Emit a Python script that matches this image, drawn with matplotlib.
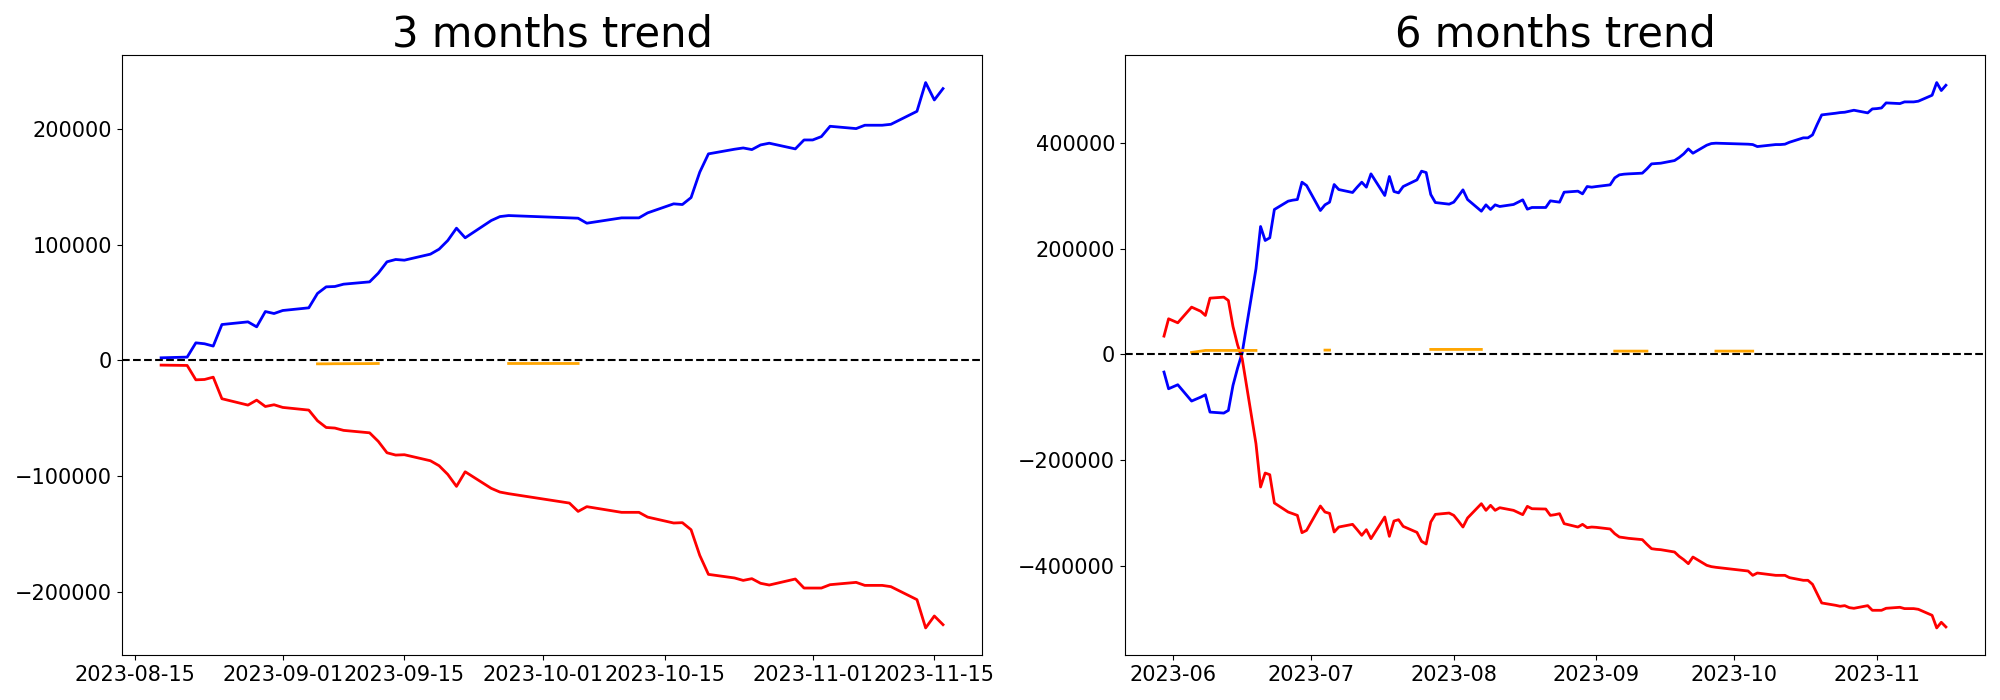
import pandas as pd
import numpy as np
import matplotlib
matplotlib.use("Agg")
import matplotlib.pyplot as plt

# 休場日（土日以外）
holidays = ["2023-06-06", "2023-08-15", "2023-09-28", "2023-09-29",
            "2023-10-02", "2023-10-03", "2023-10-09"]

# ---- 3ヶ月 ----
dates_3m = pd.bdate_range("2023-08-18", "2023-11-16").drop(pd.to_datetime(holidays), errors="ignore")

blue_3m = [2300, 2900, 15200, 14400, 12400, 31000, 33300, 29000, 42200, 40500,
           43100, 45400, 57800, 63500, 63800, 65800, 67800, 75300, 85100, 87100,
           86500, 91700, 96000, 103500, 114100, 105800, 120700, 124100, 125000,
           123000, 122700, 118400, 123000, 123000, 123000, 127300, 135100, 134500, 140500,
           162400, 178200, 182200, 183300, 181900, 185900, 187400, 182500, 190200,
           190200, 193100, 202000, 200000, 202900, 202900, 202900, 203700, 214900,
           239700, 224700, 234500]

red_3m = [-4000, -4300, -16700, -16400, -14400, -33000, -38500, -34200, -39700, -38200,
          -40500, -42800, -52000, -57800, -58300, -60300, -62400, -69800, -79600, -81600,
          -81300, -86500, -90800, -98300, -108600, -96000, -110300, -113500, -114900,
          -123000, -130200, -126100, -131000, -131000, -131000, -135100, -140200, -139900, -146000,
          -168100, -184500, -187600, -189700, -188200, -192200, -193700, -188500, -196300,
          -196300, -196300, -193400, -191400, -194000, -194000, -194000, -195100, -206300,
          -230700, -220400, -227900]

orange_3m_dates = ["2023-09-05", "2023-09-06", "2023-09-07", "2023-09-08", "2023-09-11", "2023-09-12",
                   "2023-09-27", "2023-10-04", "2023-10-05"]
orange_3m_vals = [-2900, -2900, -2800, -2800, -2700, -2600, -2600, -2600, -2600]

# ---- 6ヶ月 ----
dates_6m = pd.bdate_range("2023-05-30", "2023-11-16").drop(pd.to_datetime(holidays), errors="ignore")

blue_6m = [-33400, -65000,
           -61200, -57400, -88300, -80800, -76400, -109200, -111100, -106000, -58700, -25900,
           3000, 162200, 242300, 215800, 220900, 274500, 290300, 292200, 293400, 326200, 319900,
           272600, 283300, 288400, 321800, 312300, 306700, 316800, 326200, 316800, 342000,
           301000, 337000, 308600, 306000, 318000, 330600, 347100, 344500, 302900, 287700, 284600,
           288400, 299700, 311700, 293400, 271300, 283300, 274500, 283300, 280200, 284000,
           292800, 275100, 278300, 278300, 290900, 289600, 288400, 307300, 309200, 304100, 318000, 316800,
           318000, 321200, 334400, 340100, 341400, 342000, 343300, 351500, 360900, 361600,
           362200, 367200, 372900, 379900, 389300, 381100, 396300, 399400, 400100,
           398200, 397500, 393700, 397500, 397500, 398200, 401900, 410200, 410200, 415800,
           435400, 453700, 456800, 458100, 458700, 460600, 462500, 457500, 465000,
           465600, 466800, 476400, 475100, 478300, 478300, 478300, 479600, 490900, 514900, 499800, 509800]

red_6m = [34700, 67500,
          63700, 59900, 89600, 81700, 73800, 106600, 108500, 102200, 53000, 18000,
          -8000, -169100, -251100, -224600, -227800, -281400, -298500, -301600, -304800, -337600, -333200,
          -287100, -298500, -301000, -336300, -326900, -321800, -331900, -342600, -331900, -348900,
          -307900, -344500, -315500, -313000, -325600, -337000, -354000, -359000, -317400, -302900, -300400,
          -304800, -315500, -326900, -309800, -282700, -295300, -285800, -295300, -290300, -295300,
          -303500, -287700, -292200, -292800, -304800, -303500, -301600, -320500, -326900, -321800, -328100, -326900,
          -327500, -330600, -339500, -345800, -347000, -348300, -350800, -359700, -367900, -369100,
          -369800, -374200, -382400, -388700, -396300, -383700, -399400, -401900, -403200,
          -410200, -418400, -414000, -418400, -418400, -418400, -422800, -427800, -427800, -435400,
          -453100, -470700, -475100, -477000, -475800, -479600, -480800, -475800, -484600,
          -484600, -484600, -480800, -478900, -481400, -481400, -481400, -482700, -494100, -518000, -507300, -516100]

orange_6m_dates = ["2023-06-05", "2023-06-07", "2023-06-08", "2023-06-09", "2023-06-12", "2023-06-13",
                   "2023-06-14", "2023-06-15", "2023-06-16", "2023-06-19",
                   "2023-07-04", "2023-07-05",
                   "2023-07-27", "2023-07-28", "2023-07-31", "2023-08-01", "2023-08-02", "2023-08-03",
                   "2023-08-04", "2023-08-07",
                   "2023-09-05", "2023-09-06", "2023-09-07", "2023-09-08", "2023-09-11", "2023-09-12",
                   "2023-09-27", "2023-10-04", "2023-10-05"]
orange_6m_vals = [3800, 6300, 7600, 7600, 7600, 7600, 7600, 7600, 7600, 7600,
                  8200, 8200,
                  9500, 9500, 9500, 9500, 9500, 9500, 9500, 9500,
                  6300, 6300, 6300, 6300, 6300, 6300,
                  6300, 6300, 6300]

plt.rcParams['font.size'] = 15

fig, axes = plt.subplots(1, 2, figsize=(20, 7))
fig.subplots_adjust(left=0.061, right=0.9925, bottom=0.064, top=0.921, wspace=0.166)

panels = [
    (axes[0], "3 months trend", dates_3m, blue_3m, red_3m, orange_3m_dates, orange_3m_vals),
    (axes[1], "6 months trend", dates_6m, blue_6m, red_6m, orange_6m_dates, orange_6m_vals),
]

for ax, title, dates, blue, red, o_dates, o_vals in panels:
    # NaNで途切れる線にする
    orange = pd.Series(o_vals, index=pd.to_datetime(o_dates)).reindex(dates)
    ax.plot(dates, blue, color="blue", linewidth=2)
    ax.plot(dates, red, color="red", linewidth=2)
    ax.plot(dates, orange.values, color="orange", linewidth=2)
    ax.axhline(0, color="black", linestyle="--", linewidth=1.5)
    ax.set_title(title, fontsize=30)

plt.savefig("out.png", dpi=100)
